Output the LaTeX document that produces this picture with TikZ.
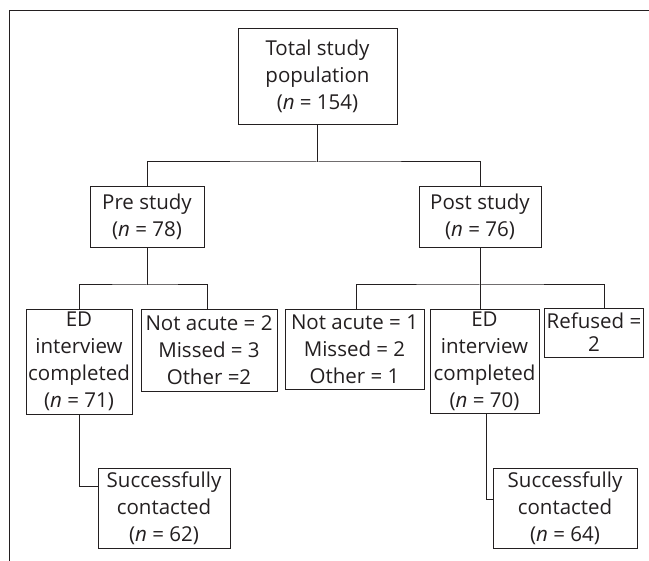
\documentclass[tikz,border=0pt]{standalone}
\usepackage{fontspec}
\setmainfont{Open Sans}
\definecolor{ink}{HTML}{231F20}
\tikzset{
  box/.style={draw=ink, line width=0.9pt, rectangle, align=center, inner sep=2pt,
    text=ink, font={\fontsize{20.5}{27}\selectfont}},
  conn/.style={draw=ink, line width=1pt},
}
\begin{document}
\begin{tikzpicture}[x=1pt,y=-1pt]
\useasboundingbox (0,0) rectangle (649,561);
% frame
\draw[conn] (9,561) -- (9,11) -- (649,11);
% nodes
\node[box, minimum width=159pt, minimum height=96pt] (total) at (317.5,76) {Total study\\population\\ (\textit{n} = 154)};
\node[box, minimum width=114pt, minimum height=61pt] (pre) at (147,216.5) {Pre study\\(\textit{n} = 78)};
\node[box, minimum width=122pt, minimum height=61pt] (post) at (480,216.5) {Post study\\(\textit{n} = 76)};
\node[box, minimum width=106pt, minimum height=105pt] (ed1) at (79,361.5) {ED\\interview\\completed\\(\textit{n} = 71)};
\node[box, minimum width=136pt, minimum height=82pt] (na1) at (209,350) {Not acute = 2\\Missed = 3\\Other =2};
\node[box, minimum width=139pt, minimum height=80pt] (na2) at (354.5,349) {Not acute = 1\\Missed = 2\\Other = 1};
\node[box, minimum width=109pt, minimum height=104pt] (ed2) at (484.5,361) {ED\\interview\\completed\\(\textit{n} = 70)};
\node[box, minimum width=98pt, minimum height=49pt, font={\fontsize{20.5}{23}\selectfont}] (ref) at (594,332.5) {Refused =\\2};
\node[box, minimum width=132pt, minimum height=80pt] (s1) at (164,508) {Successfully\\contacted\\(\textit{n} = 62)};
\node[box, minimum width=144pt, minimum height=80pt] (s2) at (565,508) {Successfully\\contacted\\(\textit{n} = 64)};
% junctions
\coordinate (j1) at (317.5,162);
\coordinate (j2) at (147,285);
\coordinate (j3) at (480,285);
\coordinate (k1) at (79,487);
\coordinate (k2) at (486,500);
% connectors
\draw[conn] (total.south) -- (j1);
\draw[conn] (pre.north) |- (j1) -| (post.north);
\draw[conn] (pre.south) -- (j2);
\draw[conn] (ed1.north) |- (j2) -| ([xshift=-2pt]na1.north);
\draw[conn] (post.south) -- (j3);
\draw[conn] ([xshift=2pt]na2.north) |- (j3) -| ([xshift=10pt]ref.north);
\draw[conn] (j3) -- (ed2.north -| j3);
\draw[conn] (ed1.south) -- (k1) -- (s1.west |- k1);
\draw[conn] (ed2.south -| k2) -- (k2) -- (s2.west |- k2);
\end{tikzpicture}
\end{document}
